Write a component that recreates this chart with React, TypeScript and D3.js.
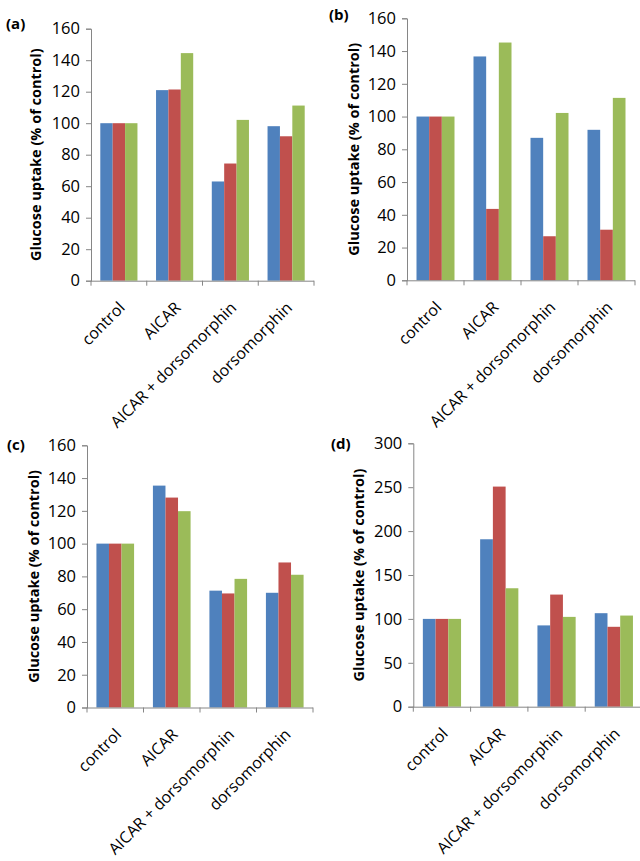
import React, { useEffect, useRef } from 'react';
import * as d3 from 'd3';

const categories = ['control', 'AICAR', 'AICAR + dorsomorphin', 'dorsomorphin'];
const seriesKeys = ['blue', 'red', 'green'];
const seriesColors = ['#4F81BD', '#C0504D', '#9BBB59'];

// glucose uptake, % of control
const aBlue = [100, 121, 63, 98.1];
const aRed = [100, 121.4, 74.4, 91.7];
const aGreen = [100, 144.5, 102.1, 111.2];

const bBlue = [100, 136.7, 87, 91.9];
const bRed = [100, 43.6, 26.9, 30.9];
const bGreen = [100, 145.2, 102.2, 111.4];

const cBlue = [100, 135.4, 71.3, 70];
const cRed = [100, 128.1, 69.6, 88.5];
const cGreen = [100, 119.8, 78.5, 81];

const dBlue = [100, 190.7, 92.6, 106.5];
const dRed = [100, 250.7, 127.7, 91];
const dGreen = [100, 134.9, 102.3, 103.8];

const ticks160 = [0, 20, 40, 60, 80, 100, 120, 140, 160];
const ticks300 = [0, 50, 100, 150, 200, 250, 300];

const yTitle = 'Glucose uptake (% of control)';

interface Panel {
  tag: string;
  series: number[][];
  ticks: number[];
  left: number;
  right: number;
  top: number;
  bottom: number;
  titleX: number;
  tagX: number;
  tagY: number;
}

const panels: Panel[] = [
  { tag: '(a)', series: [aBlue, aRed, aGreen], ticks: ticks160, left: 91, right: 314, top: 28.7, bottom: 280.7, titleX: 35, tagX: 6, tagY: 29 },
  { tag: '(b)', series: [bBlue, bRed, bGreen], ticks: ticks160, left: 407, right: 635, top: 18.3, bottom: 280.3, titleX: 353, tagX: 329, tagY: 20 },
  { tag: '(c)', series: [cBlue, cRed, cGreen], ticks: ticks160, left: 87, right: 313, top: 445.3, bottom: 707.5, titleX: 33, tagX: 7, tagY: 450 },
  { tag: '(d)', series: [dBlue, dRed, dGreen], ticks: ticks300, left: 413.3, right: 642.5, top: 443.3, bottom: 706.7, titleX: 358, tagX: 331, tagY: 449 },
];

const FONT = '"Open Sans", sans-serif';
const AXIS = '#868686';

const App: React.FC = () => {
  const svgRef = useRef<SVGSVGElement>(null);

  useEffect(() => {
    if (!svgRef.current) return;
    const svg = d3.select(svgRef.current);
    svg.selectAll('*').remove();

    panels.forEach((p) => {
      const g = svg.append('g');

      const x = d3
        .scaleBand<string>()
        .domain(categories)
        .range([p.left, p.right])
        .paddingInner(1 / 3)
        .paddingOuter(1 / 6);
      const xs = d3.scaleBand<string>().domain(seriesKeys).range([0, x.bandwidth()]);
      const y = d3
        .scaleLinear()
        .domain([0, d3.max(p.ticks) as number])
        .range([p.bottom, p.top]);

      // bars
      p.series.forEach((vals, si) => {
        g.selectAll(null)
          .data(vals)
          .enter()
          .append('rect')
          .attr('x', (_d, i) => (x(categories[i]) as number) + (xs(seriesKeys[si]) as number))
          .attr('y', (d) => y(d))
          .attr('width', xs.bandwidth())
          .attr('height', (d) => p.bottom - y(d))
          .attr('fill', seriesColors[si]);
      });

      // y axis
      const yAxis = g
        .append('g')
        .attr('transform', `translate(${p.left},0)`)
        .call(d3.axisLeft(y).tickValues(p.ticks).tickSize(5).tickPadding(6).tickFormat(d3.format('d')));
      yAxis.select('.domain').attr('stroke', AXIS);
      yAxis.selectAll('.tick line').attr('stroke', AXIS);
      yAxis
        .selectAll('.tick text')
        .attr('fill', '#000')
        .attr('font-family', FONT)
        .attr('font-size', 16.5);

      // x axis: ticks between categories
      const step = x.step();
      const bounds = d3.range(categories.length + 1).map((i) => p.left + i * step);
      g.append('line')
        .attr('x1', p.left)
        .attr('x2', p.right)
        .attr('y1', p.bottom + 0.5)
        .attr('y2', p.bottom + 0.5)
        .attr('stroke', AXIS);
      g.selectAll(null)
        .data(bounds)
        .enter()
        .append('line')
        .attr('x1', (d) => d)
        .attr('x2', (d) => d)
        .attr('y1', p.bottom)
        .attr('y2', p.bottom + 5)
        .attr('stroke', AXIS);

      g.selectAll(null)
        .data(categories)
        .enter()
        .append('text')
        .attr(
          'transform',
          (d) => `translate(${(x(d) as number) + x.bandwidth() / 2 + 7},${p.bottom + 28}) rotate(-45)`
        )
        .attr('text-anchor', 'end')
        .attr('font-family', FONT)
        .attr('font-size', 16)
        .text((d) => d);

      // y title
      g.append('text')
        .attr('transform', `translate(${p.titleX},${(p.top + p.bottom) / 2}) rotate(-90)`)
        .attr('text-anchor', 'middle')
        .attr('dominant-baseline', 'central')
        .attr('font-family', FONT)
        .attr('font-weight', 'bold')
        .attr('font-size', 14.5)
        .text(yTitle);

      // panel tag
      g.append('text')
        .attr('x', p.tagX)
        .attr('y', p.tagY)
        .attr('font-family', FONT)
        .attr('font-weight', 'bold')
        .attr('font-size', 15)
        .text(p.tag);
    });
  }, []);

  return (
    <svg
      ref={svgRef}
      width={640}
      height={861}
      style={{ position: 'absolute', left: 0, top: 0, background: '#fff' }}
    />
  );
};

export default App;
